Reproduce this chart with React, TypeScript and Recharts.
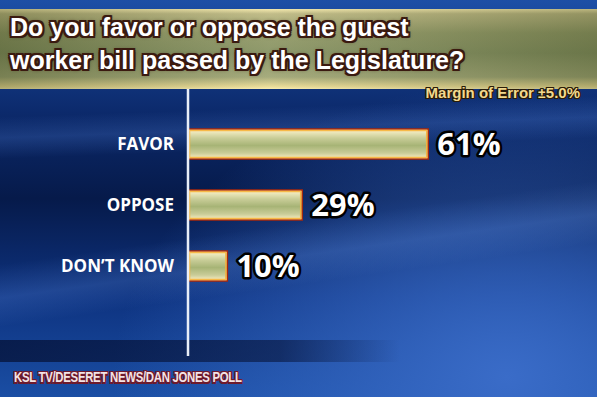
import React from "react";
import { BarChart, Bar, XAxis, YAxis, LabelList } from "recharts";

const categories = ["FAVOR", "OPPOSE", "DON\u2019T KNOW"];
const percents = [61, 29, 10];
const titleLines = ["Do you favor or oppose the guest", "worker bill passed by the Legislature?"];
const marginNote = "Margin of Error";
const marginValue = "5.0%";
const sourceNote = "KSL TV/DESERET NEWS/DAN JONES POLL";

const data = categories.map((name, i) => ({ name, value: percents[i] }));

const W = 597;
const H = 397;

const outline = (c: string, w = 2) =>
  [
    `${w}px 0 0 ${c}`, `-${w}px 0 0 ${c}`, `0 ${w}px 0 ${c}`, `0 -${w}px 0 ${c}`,
    `${w}px ${w}px 0 ${c}`, `-${w}px ${w}px 0 ${c}`, `${w}px -${w}px 0 ${c}`, `-${w}px -${w}px 0 ${c}`,
  ].join(", ");

function BarShape(props: any) {
  const { x, y, width, height } = props;
  if (!width || width <= 0) return null;
  return (
    <g>
      <rect x={x} y={y} width={width} height={height} fill="url(#barFill)" stroke="#a8280c" strokeWidth={1.5} />
      <rect x={x + 1.5} y={y + 1.5} width={Math.max(0, width - 3)} height={height - 3} fill="none" stroke="#f7b23a" strokeWidth={1.5} opacity={0.9} />
    </g>
  );
}

function CategoryTick(props: any) {
  const { x, y, payload } = props;
  return (
    <text x={x - 6} y={y} dy={6} textAnchor="end" fill="#ffffff" fontFamily="'Open Sans', sans-serif" fontWeight={700} fontSize={17}>
      {payload.value}
    </text>
  );
}

function ValueLabel(props: any) {
  const { x, y, width, height, value } = props;
  return (
    <text
      x={x + width + 9}
      y={y + height / 2}
      dy={11}
      fill="#ffffff"
      stroke="#000000"
      strokeWidth={5}
      strokeLinejoin="round"
      paintOrder="stroke"
      fontFamily="'Open Sans', sans-serif"
      fontWeight={700}
      fontSize={31}
    >
      {value}%
    </text>
  );
}

export default function App() {
  return (
    <div
      style={{
        position: "absolute",
        left: 0,
        top: 0,
        width: W,
        height: H,
        overflow: "hidden",
        fontFamily: "'Liberation Sans', Arial, sans-serif",
        background:
          "linear-gradient(172deg, rgba(120,170,255,0) 55%, rgba(120,170,255,0.18) 62%, rgba(120,170,255,0) 68%)," +
          "linear-gradient(178deg, rgba(90,140,230,0) 28%, rgba(90,140,230,0.22) 33%, rgba(90,140,230,0) 38%)," +
          "radial-gradient(ellipse at 85% 95%, #3a6cc8 0%, rgba(40,90,190,0) 55%)," +
          "linear-gradient(180deg, #1d4fa6 0%, #0c2a6c 28%, #061a4a 50%, #0e3380 75%, #1a4ea4 100%)",
      }}
    >
      {/* title banner */}
      <div
        style={{
          position: "absolute",
          left: 0,
          top: 9,
          width: W,
          height: 80,
          background:
            "linear-gradient(90deg, rgba(60,70,30,0.35) 0%, rgba(255,255,220,0.12) 45%, rgba(60,70,30,0.3) 100%)," +
            "linear-gradient(180deg, #f3e6a8 0%, #b9b47e 6%, #8c9462 30%, #7f8b5c 55%, #9aa070 85%, #e8d890 97%, #f6e9aa 100%)",
        }}
      />
      {titleLines.map((t, i) => (
        <div
          key={i}
          style={{
            position: "absolute",
            left: 10,
            top: 13 + i * 33,
            fontSize: 25,
            fontWeight: 700,
            color: "#ffffff",
            whiteSpace: "nowrap",
            textShadow: outline("#3a1a10", 2) + ", 0 0 4px #2a1008",
          }}
        >
          {t}
        </div>
      ))}
      <div
        style={{
          position: "absolute",
          right: 17,
          top: 84,
          fontSize: 15,
          fontWeight: 700,
          color: "#f2d98e",
          whiteSpace: "nowrap",
          textShadow: outline("#2a1c08", 1),
        }}
      >
        {marginNote} <span style={{ fontSize: 14 }}>{"\u00b1"}</span>
        {marginValue}
      </div>

      {/* footer band */}
      <div
        style={{
          position: "absolute",
          left: 0,
          top: 340,
          width: 400,
          height: 22,
          background: "linear-gradient(90deg, rgba(4,14,48,0.7) 0%, rgba(4,14,48,0.55) 70%, rgba(4,14,48,0) 100%)",
        }}
      />
      <div
        style={{
          position: "absolute",
          left: 14,
          top: 368,
          fontSize: 15,
          fontWeight: 700,
          color: "#f3e3e6",
          letterSpacing: -0.4,
          whiteSpace: "nowrap",
          transform: "scaleX(0.76)",
          transformOrigin: "left top",
          textShadow: outline("#6e1a2c", 1.5),
        }}
      >
        {sourceNote}
      </div>

      <div style={{ position: "absolute", left: 0, top: 0 }}>
        <BarChart
          width={W}
          height={H}
          data={data}
          layout="vertical"
          margin={{ top: 89, right: 27, bottom: 41, left: 0 }}
        >
          <defs>
            <linearGradient id="barFill" x1="0" y1="0" x2="0" y2="1">
              <stop offset="0%" stopColor="#fff6cf" />
              <stop offset="30%" stopColor="#c9cd98" />
              <stop offset="55%" stopColor="#a7b476" />
              <stop offset="80%" stopColor="#c9cc98" />
              <stop offset="100%" stopColor="#fff3c8" />
            </linearGradient>
          </defs>
          <XAxis type="number" domain={[0, 97]} hide />
          <YAxis
            type="category"
            dataKey="name"
            width={188}
            padding={{ top: 24, bottom: 60 }}
            axisLine={{ stroke: "#e8eef8", strokeWidth: 2.5 }}
            tickLine={false}
            tick={<CategoryTick />}
            interval={0}
          />
          <Bar dataKey="value" barSize={30} shape={<BarShape />} isAnimationActive={false}>
            <LabelList dataKey="value" content={<ValueLabel />} />
          </Bar>
        </BarChart>
      </div>
    </div>
  );
}
